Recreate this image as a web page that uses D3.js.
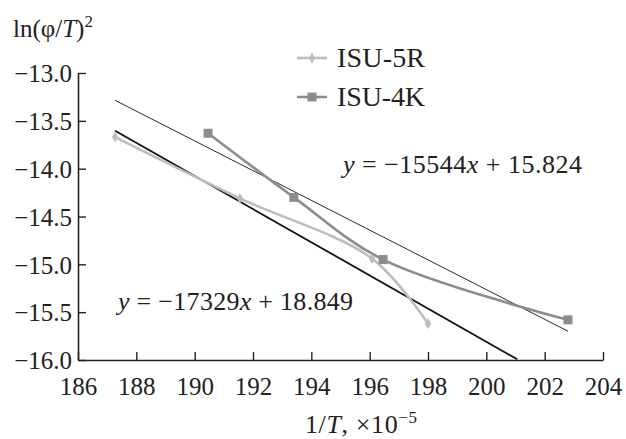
<!DOCTYPE html>
<html><head><meta charset="utf-8">
<script src="https://cdn.jsdelivr.net/npm/d3@7"></script>
<style>body{margin:0;background:#fff}svg{display:block}text{font-family:"Liberation Serif","DejaVu Serif",serif;fill:#222}</style>
</head><body>
<svg id="c" width="626" height="439"></svg>
<script>
const xTicks = [186,188,190,192,194,196,198,200,202,204];
const yTicks = [-13.0,-13.5,-14.0,-14.5,-15.0,-15.5,-16.0];
const seriesNames = ["ISU-5R","ISU-4K"];
const x5R = [187.27,191.55,196.08,198.0];
const y5R = [-13.67,-14.31,-14.94,-15.62];
const x4K = [190.46,193.4,196.46,202.8];
const y4K = [-13.63,-14.30,-14.95,-15.58];
// trend lines: slope, intercept (x in units of 1e-5), x-range
const trendSlopes = [-17329,-15544];
const trendIntercepts = [18.849,15.824];
const trendXStart = [187.27,187.27];
const trendXEnd = [201.06,202.8];
const trendLabels = ["y = \u221217329x + 18.849","y = \u221215544x + 15.824"];

const svg = d3.select("#c");
const x = d3.scaleLinear().domain([186,204]).range([78,603]);
const y = d3.scaleLinear().domain([-16,-13]).range([360,73]);
const fs = 25;

// axes
const xa = svg.append("g").attr("transform","translate(0,360)")
  .call(d3.axisBottom(x).tickValues(xTicks).tickSizeInner(-8).tickSizeOuter(0).tickPadding(20).tickFormat(d3.format("d")));
const ya = svg.append("g").attr("transform","translate(78,0)")
  .call(d3.axisLeft(y).tickValues(yTicks).tickSizeInner(-8).tickSizeOuter(0).tickPadding(14).tickFormat(d=>d3.format(".1f")(d).replace("-","\u2212")));
[xa,ya].forEach(a=>{
  a.selectAll("path").attr("stroke","#222").attr("stroke-width",1.6);
  a.selectAll("line").attr("stroke","#222").attr("stroke-width",1.4);
  a.selectAll("text").style("font-size",fs+"px").attr("fill","#222").style("font-family","'Liberation Serif',serif");
});
xa.selectAll("text").attr("dy","0.71em").attr("y",17);
ya.selectAll("text").attr("dy","0.35em").attr("x",-6);

// trend lines
const tw = [1.8,0.9];
trendSlopes.forEach((s,i)=>{
  const f = v => s*v*1e-5 + trendIntercepts[i];
  svg.append("line")
    .attr("x1",x(trendXStart[i])).attr("y1",y(f(trendXStart[i])))
    .attr("x2",x(trendXEnd[i])).attr("y2",y(f(trendXEnd[i])))
    .attr("stroke","#111").attr("stroke-width",tw[i]);
});

// series
const colors = ["#bdbdbd","#8c8c8c"];
const data = [x5R.map((v,i)=>[v,y5R[i]]), x4K.map((v,i)=>[v,y4K[i]])];
const line = d3.line().x(d=>x(d[0])).y(d=>y(d[1])).curve(d3.curveCatmullRom.alpha(0.5));
data.forEach((d,i)=>{
  svg.append("path").attr("d",line(d)).attr("fill","none").attr("stroke",colors[i]).attr("stroke-width",2.6);
});
function marker(g,cx,cy,i){
  if(i===0){
    g.append("path").attr("d",d3.symbol(d3.symbolDiamond,34)()).attr("transform",`translate(${cx},${cy})`).attr("fill",colors[0]);
  } else {
    g.append("rect").attr("x",cx-4.5).attr("y",cy-4.5).attr("width",9).attr("height",9).attr("fill",colors[1]);
  }
}
data.forEach((d,i)=>d.forEach(p=>marker(svg,x(p[0]),y(p[1]),i)));

// legend
const ly = [58,97];
seriesNames.forEach((n,i)=>{
  svg.append("line").attr("x1",297).attr("x2",327).attr("y1",ly[i]).attr("y2",ly[i]).attr("stroke",colors[i]).attr("stroke-width",2.6);
  marker(svg,312,ly[i],i);
  svg.append("text").attr("x",337).attr("y",ly[i]+9).style("font-size","28px").attr("textLength",88).text(n);
});

// equations
function eq(txt,px,py,w){
  const t = svg.append("text").attr("x",px).attr("y",py).style("font-size","26px").attr("textLength",w);
  const m = txt.match(/^y = (\u2212\d+)x \+ ([\d.]+)$/);
  t.append("tspan").style("font-style","italic").text("y");
  t.append("tspan").text(" = "+m[1]);
  t.append("tspan").style("font-style","italic").text("x");
  t.append("tspan").text(" + "+m[2]);
}
eq(trendLabels[1],343,173,239);
eq(trendLabels[0],118,310,235);

// axis titles
const yt = svg.append("text").attr("x",13).attr("y",37).style("font-size",fs+"px");
yt.append("tspan").text("ln(\u03c6/");
yt.append("tspan").style("font-style","italic").text("T");
yt.append("tspan").text(")");
yt.append("tspan").attr("dy",-10).style("font-size","17px").text("2");

const xt = svg.append("text").attr("x",305).attr("y",433).style("font-size","26px").attr("textLength",112);
xt.append("tspan").text("1/");
xt.append("tspan").style("font-style","italic").text("T");
xt.append("tspan").text(", \u00d710");
xt.append("tspan").attr("dy",-10).style("font-size","17px").text("\u22125");
</script>
</body></html>
